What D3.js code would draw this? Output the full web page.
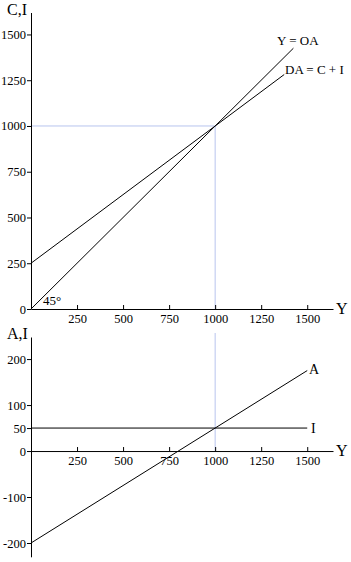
<!DOCTYPE html>
<html>
<head>
<meta charset="utf-8">
<script src="https://cdn.jsdelivr.net/npm/d3@7"></script>
<style>
  body { margin: 0; background: #fff; }
  svg { display: block; }
  text { font-family: "Liberation Serif", "Times New Roman", serif; fill: #000; }
  .tick text { font-size: 12.5px; }
  .tick line, .domain { stroke: #000; }
</style>
</head>
<body>
<svg id="chart"></svg>
<script>
// Axis ticks
const xTicks = [250, 500, 750, 1000, 1250, 1500];
const topYTicks = [0, 250, 500, 750, 1000, 1250, 1500];
const botYTicks = [-200, -100, 0, 50, 100, 200];

// Top panel: Y = OA (45 degree line) and DA = C + I
const oaLine = [[0, 0], [1425, 1425]];
const daLine = [[0, 250], [1375, 1281]];
const equilibrium = { y: 1000, c: 1000 };

// Bottom panel: autonomous spending A and investment I
const aLine = [[0, -200], [1500, 175]];
const iLine = [[0, 50], [1500, 50]];

const W = 351, H = 562;
const svg = d3.select("#chart").attr("width", W).attr("height", H);

const x = d3.scaleLinear().domain([0, 1640]).range([31, 333]);
const yTop = d3.scaleLinear().domain([0, 1620]).range([309, 12.5]);
const yBot = d3.scaleLinear().domain([-230, 248]).range([556.8, 337]);

const guide = "#b8c4ee";
const plain = d => String(d);

function axes(g, y, yTicks, yLabel) {
  g.append("g")
    .attr("transform", `translate(0,${y(0)})`)
    .call(d3.axisBottom(x).tickValues(xTicks).tickFormat(plain)
      .tickSize(-4).tickSizeOuter(0).tickPadding(5))
    .call(s => s.selectAll(".tick text").attr("dy", "0.75em"));
  g.append("g")
    .attr("transform", `translate(${x(0)},0)`)
    .call(d3.axisLeft(y).tickValues(yTicks).tickFormat(plain)
      .tickSize(4).tickSizeOuter(0).tickPadding(1));
  g.append("text").attr("x", x.range()[1] + 3).attr("y", y(0) + 5)
    .style("font-size", "16px").text("Y");
  g.append("text").attr("x", 7).attr("y", y.range()[1] + 2)
    .style("font-size", "16px").text(yLabel);
}

const line = (y) => d3.line().x(d => x(d[0])).y(d => y(d[1]));

// ---- top panel
const topPanel = svg.append("g");
topPanel.append("line")
  .attr("x1", x(0)).attr("x2", x(equilibrium.y))
  .attr("y1", yTop(equilibrium.c)).attr("y2", yTop(equilibrium.c))
  .attr("stroke", guide);
topPanel.append("line")
  .attr("x1", x(equilibrium.y)).attr("x2", x(equilibrium.y))
  .attr("y1", yTop(0)).attr("y2", yTop(equilibrium.c))
  .attr("stroke", guide);
axes(topPanel, yTop, topYTicks, "C,I");
topPanel.append("path").datum(oaLine).attr("d", line(yTop))
  .attr("fill", "none").attr("stroke", "#000");
topPanel.append("path").datum(daLine).attr("d", line(yTop))
  .attr("fill", "none").attr("stroke", "#000");
topPanel.append("text").attr("x", 277).attr("y", 45).style("font-size", "13px").text("Y = OA");
topPanel.append("text").attr("x", 285).attr("y", 74).style("font-size", "13px").text("DA = C + I");
topPanel.append("text").attr("x", 43).attr("y", 305).style("font-size", "13px").text("45°");

// ---- bottom panel
const botPanel = svg.append("g");
botPanel.append("line")
  .attr("x1", x(equilibrium.y)).attr("x2", x(equilibrium.y))
  .attr("y1", 333).attr("y2", yBot(0))
  .attr("stroke", guide);
axes(botPanel, yBot, botYTicks, "A,I");
botPanel.append("path").datum(iLine).attr("d", line(yBot))
  .attr("fill", "none").attr("stroke", "#000");
botPanel.append("path").datum(aLine).attr("d", line(yBot))
  .attr("fill", "none").attr("stroke", "#000");
botPanel.append("text").attr("x", 309).attr("y", 374).style("font-size", "14px").text("A");
botPanel.append("text").attr("x", 311).attr("y", 433).style("font-size", "14px").text("I");
</script>
</body>
</html>
